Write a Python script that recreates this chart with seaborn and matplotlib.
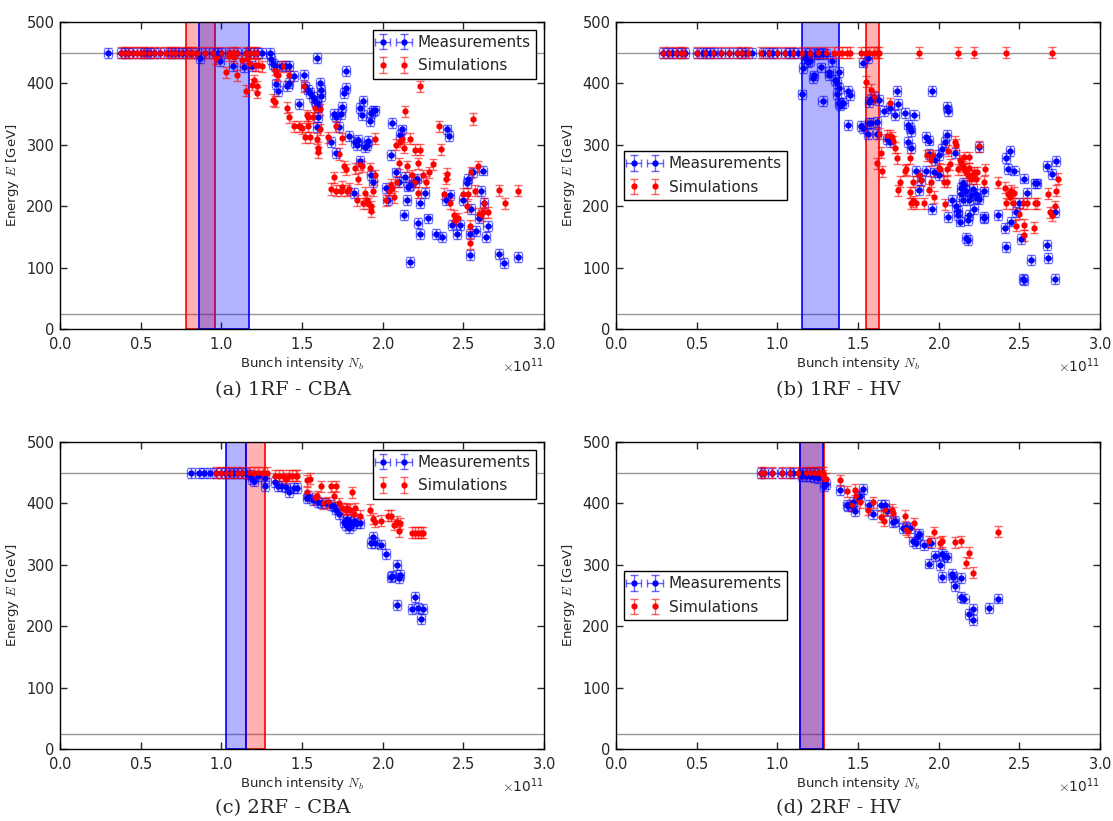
import numpy as np
import pandas as pd
import matplotlib
matplotlib.use("Agg")
import matplotlib.pyplot as plt
import seaborn as sns
from matplotlib.ticker import ScalarFormatter, MultipleLocator

# ---------------- data (x in units of 1e11 protons) ----------------
# (a) 1RF - CBA
a_meas_x = [0.30, 0.38, 0.40, 0.42, 0.45, 0.50, 0.52, 0.54, 0.56, 0.58, 0.62, 0.67, 0.69, 0.71, 0.73,
            0.76, 0.78, 0.81, 0.85, 0.90, 0.95, 0.98, 1.00, 1.05, 1.10, 1.15, 1.18, 1.20, 1.22, 1.25, 1.30,
            0.87, 0.99, 1.07, 1.14, 1.19, 1.31, 1.32, 1.33, 1.37, 1.40, 1.42, 1.45, 1.34, 1.35, 1.41, 1.42,
            1.51, 1.48, 1.52, 1.54, 1.55, 1.57, 1.58, 1.59, 1.60, 1.60, 1.595, 1.61, 1.62, 1.62, 1.595,
            1.68, 1.70, 1.71, 1.74, 1.73, 1.75, 1.76, 1.77, 1.77, 1.71, 1.79, 1.83, 1.84, 1.85, 1.86, 1.87,
            1.88, 1.89, 1.90, 1.91, 1.92, 1.93, 1.94, 1.95, 1.86, 1.93, 1.94, 1.82, 2.02, 2.03, 2.05, 2.06,
            2.08, 2.10, 2.11, 2.12, 2.13, 2.14, 2.15, 2.16, 2.17, 2.17, 2.20, 2.21, 2.22, 2.23, 2.23, 2.26,
            2.28, 2.33, 2.37, 2.39, 2.40, 2.41, 2.42, 2.43, 2.46, 2.48, 2.50, 2.52, 2.53, 2.54, 2.54, 2.55,
            2.56, 2.58, 2.60, 2.61, 2.62, 2.63, 2.64, 2.65, 2.72, 2.75, 2.84]
a_meas_y = [450] * 31 + \
           [442, 436, 428, 426, 428, 440, 432, 428, 428, 428, 428, 412, 399, 388, 396, 401,
            414, 366, 395, 390, 385, 378, 372, 368, 362, 345, 442, 400, 390, 380, 329,
            304, 350, 345, 350, 329, 361, 385, 392, 420, 287, 315, 305, 300, 308, 360, 348,
            372, 296, 300, 306, 338, 352, 355, 356, 273, 250, 240, 222, 230, 210, 283, 336,
            255, 240, 316, 325, 185, 248, 210, 232, 235, 109, 240, 245, 172, 155, 205, 222,
            180, 155, 150, 210, 325, 315, 218, 170, 155, 170, 210, 238, 245, 120, 155, 195,
            255, 160, 180, 225, 258, 205, 150, 168, 122, 108, 117]
a_sim_x = [0.38, 0.40, 0.42, 0.45, 0.48, 0.50, 0.52, 0.55, 0.58, 0.62, 0.66, 0.68, 0.70, 0.72, 0.75,
           0.78, 0.80, 0.82, 0.85, 0.90, 0.95, 1.00, 1.05, 1.08, 1.10, 1.15, 1.18, 1.20, 1.22,
           0.97, 1.03, 1.05, 1.08, 1.10, 1.13, 1.15, 1.16, 1.18, 1.19, 1.20, 1.21, 1.22, 1.22, 1.23, 1.25,
           1.32, 1.33, 1.33, 1.34, 1.35, 1.38, 1.41, 1.42, 1.42, 1.45, 1.48, 1.50, 1.51, 1.52, 1.53, 1.54,
           1.54, 1.55, 1.57, 1.58, 1.59, 1.60, 1.60, 1.61, 1.61, 1.66, 1.68, 1.70, 1.71, 1.71, 1.73, 1.74,
           1.75, 1.75, 1.76, 1.77, 1.78, 1.79, 1.83, 1.84, 1.85, 1.86, 1.87, 1.88, 1.89, 1.90, 1.91, 1.92,
           1.93, 1.93, 1.94, 1.95, 1.95, 2.02, 2.04, 2.05, 2.06, 2.07, 2.08, 2.09, 2.10, 2.11, 2.12, 2.13,
           2.14, 2.15, 2.17, 2.18, 2.20, 2.20, 2.22, 2.22, 2.23, 2.23, 2.25, 2.27, 2.29, 2.31, 2.35, 2.36,
           2.38, 2.39, 2.40, 2.42, 2.44, 2.45, 2.47, 2.50, 2.52, 2.53, 2.54, 2.54, 2.55, 2.56, 2.57, 2.59,
           2.60, 2.61, 2.62, 2.63, 2.65, 2.72, 2.76, 2.84]
a_sim_y = [450] * 29 + \
          [441, 418, 445, 443, 413, 438, 388, 440, 432, 398, 405, 430, 385, 395, 430, 428,
           373, 370, 422, 415, 413, 428, 360, 345, 413, 330, 330, 327, 395, 312, 348, 330,
           345, 312, 345, 360, 310, 288, 295, 325, 358, 312, 228, 247, 330, 225, 285, 225,
           232, 311, 265, 260, 225, 228, 262, 210, 245, 268, 265, 205, 222, 210, 205, 262,
           200, 192, 225, 310, 250, 210, 225, 235, 230, 215, 300, 240, 270, 305, 310, 295,
           355, 265, 310, 250, 240, 292, 222, 270, 292, 395, 250, 240, 255, 268, 330, 293,
           220, 245, 253, 205, 185, 178, 180, 220, 200, 220, 168, 140, 255, 342, 225, 265,
           188, 185, 190, 205, 190, 226, 205, 225]

# (b) 1RF - HV
b_meas_x = [0.29, 0.32, 0.35, 0.38, 0.41, 0.43, 0.50, 0.54, 0.56, 0.58, 0.61, 0.65, 0.70, 0.75, 0.78,
            0.80, 0.84, 0.91, 0.95, 0.97, 1.00, 1.05, 1.08, 1.10, 1.13, 1.17, 1.20, 1.25, 1.28,
            1.15, 1.16, 1.17, 1.19, 1.20, 1.22, 1.23, 1.24, 1.26, 1.27, 1.28, 1.30, 1.32, 1.32, 1.34,
            1.36, 1.37, 1.37, 1.38, 1.38, 1.38, 1.39, 1.40, 1.41, 1.44, 1.44, 1.45, 1.52, 1.53, 1.53, 1.56,
            1.56, 1.57, 1.57, 1.58, 1.58, 1.60, 1.62, 1.62, 1.63, 1.66, 1.68, 1.70, 1.70, 1.73, 1.74, 1.75,
            1.79, 1.81, 1.81, 1.82, 1.83, 1.83, 1.85, 1.86, 1.88, 1.89, 1.92, 1.92, 1.94, 1.94, 1.96, 1.96,
            1.97, 1.98, 2.00, 2.00, 2.02, 2.04, 2.05, 2.05, 2.06, 2.06, 2.08, 2.10, 2.11, 2.12, 2.12, 2.13,
            2.14, 2.14, 2.15, 2.15, 2.16, 2.17, 2.17, 2.18, 2.18, 2.19, 2.19, 2.20, 2.21, 2.22, 2.23, 2.24,
            2.25, 2.25, 2.28, 2.28, 2.28, 2.37, 2.41, 2.42, 2.42, 2.43, 2.44, 2.45, 2.47, 2.48, 2.50, 2.51,
            2.52, 2.53, 2.53, 2.55, 2.57, 2.60, 2.61, 2.67, 2.67, 2.68, 2.70, 2.72, 2.72, 2.73]
b_meas_y = [450] * 29 + \
           [382, 425, 442, 435, 436, 409, 413, 448, 448, 426, 371, 448, 419, 413, 437,
            405, 400, 383, 393, 418, 368, 365, 368, 368, 332, 388, 381, 330, 328, 434, 441,
            318, 335, 370, 335, 375, 378, 337, 318, 373, 355, 310, 360, 305, 348, 388, 366,
            352, 333, 305, 328, 295, 322, 348, 257, 226, 243, 313, 257, 285, 307, 387, 196,
            255, 275, 250, 283, 293, 305, 316, 362, 355, 183, 210, 287, 200, 192, 185, 175,
            230, 220, 238, 210, 235, 225, 148, 145, 178, 185, 210, 218, 228, 195, 220, 213,
            212, 296, 183, 180, 224, 186, 165, 133, 278, 260, 290, 175, 258, 190, 205, 147,
            82, 80, 245, 222, 113, 237, 237, 265, 137, 115, 253, 190, 82, 273]
b_sim_x = [0.29, 0.33, 0.37, 0.40, 0.42, 0.50, 0.55, 0.60, 0.65, 0.70, 0.75, 0.78, 0.82, 0.90, 0.95,
           1.00, 1.05, 1.10, 1.15, 1.20, 1.25, 1.30, 1.35, 1.38, 1.40, 1.43, 1.45, 1.52, 1.55, 1.57,
           1.60, 1.62, 1.63, 1.88, 2.12, 2.22, 2.42, 2.70,
           1.55, 1.58, 1.60, 1.62, 1.63, 1.64, 1.65, 1.68, 1.70, 1.70, 1.71, 1.72, 1.73, 1.74, 1.75, 1.76,
           1.79, 1.80, 1.82, 1.82, 1.83, 1.84, 1.84, 1.86, 1.88, 1.89, 1.91, 1.93, 1.94, 1.95, 1.95, 1.96,
           1.97, 2.00, 2.01, 2.03, 2.04, 2.05, 2.05, 2.06, 2.07, 2.10, 2.11, 2.12, 2.13, 2.14, 2.15, 2.16,
           2.16, 2.17, 2.18, 2.19, 2.19, 2.20, 2.21, 2.22, 2.23, 2.24, 2.25, 2.28, 2.29, 2.37, 2.41, 2.42,
           2.43, 2.44, 2.45, 2.46, 2.47, 2.48, 2.50, 2.52, 2.53, 2.53, 2.55, 2.59, 2.60, 2.61, 2.68, 2.69,
           2.70, 2.72, 2.73, 2.74]
b_sim_y = [450] * 38 + \
          [403, 390, 378, 270, 318, 287, 257, 315, 368, 315, 312, 306, 295, 278, 226, 240,
           258, 260, 278, 223, 205, 240, 208, 205, 250, 242, 205, 283, 227, 275, 240, 283,
           215, 262, 260, 240, 203, 240, 260, 290, 268, 305, 300, 260, 275, 270, 265, 260,
           280, 255, 250, 262, 280, 245, 250, 255, 245, 255, 298, 240, 260, 238, 230, 205,
           220, 215, 225, 205, 222, 168, 188, 205, 170, 153, 205, 165, 205, 205, 220, 190,
           185, 200, 225, 245]

# (c) 2RF - CBA
c_meas_x = [0.81, 0.86, 0.89, 0.93, 0.97, 1.00, 1.02, 1.05, 1.08, 1.10, 1.13, 1.15,
            1.17, 1.19, 1.20, 1.23, 1.27, 1.27, 1.33, 1.35, 1.37, 1.40, 1.42, 1.45, 1.47, 1.53, 1.54,
            1.57, 1.60, 1.62, 1.65, 1.68, 1.70, 1.71, 1.73, 1.76, 1.77, 1.78, 1.79, 1.80, 1.81, 1.82,
            1.84, 1.86, 1.93, 1.94, 1.95, 1.99, 2.02, 2.05, 2.06, 2.09, 2.09, 2.10, 2.11, 2.18, 2.20,
            2.22, 2.24, 2.25]
c_meas_y = [450] * 12 + \
           [447, 440, 437, 445, 428, 442, 435, 428, 428, 426, 418, 425, 425, 408, 412,
            405, 402, 400, 400, 398, 395, 390, 382, 370, 365, 375, 360, 370, 365, 372,
            368, 368, 335, 345, 335, 333, 318, 280, 282, 300, 235, 278, 283, 228, 248,
            230, 212, 228]
c_sim_x = [0.97, 1.00, 1.03, 1.06, 1.10, 1.13, 1.17, 1.20, 1.23, 1.26, 1.28,
           1.33, 1.36, 1.38, 1.40, 1.42, 1.44, 1.46, 1.47, 1.53, 1.55, 1.53, 1.58, 1.59, 1.62, 1.63,
           1.66, 1.68, 1.70, 1.71, 1.73, 1.75, 1.77, 1.78, 1.80, 1.81, 1.82, 1.83, 1.86, 1.92, 1.94,
           1.95, 1.99, 2.03, 2.05, 2.07, 2.09, 2.10, 2.11, 2.18, 2.20, 2.22, 2.24, 2.25]
c_sim_y = [450] * 11 + \
          [445, 445, 445, 440, 445, 445, 445, 445, 438, 440, 418, 408, 412, 428, 400,
           402, 428, 412, 428, 400, 392, 390, 392, 390, 418, 382, 392, 380, 390, 375,
           370, 372, 380, 380, 365, 370, 355, 368, 352, 352, 352, 352, 352]

# (d) 2RF - HV
d_meas_x = [0.90, 0.92, 0.97, 1.03, 1.08, 1.10, 1.15, 1.18, 1.20, 1.23, 1.25,
            1.15, 1.18, 1.20, 1.23, 1.25, 1.29, 1.30, 1.39, 1.43, 1.44, 1.46, 1.47, 1.48, 1.50, 1.51,
            1.53, 1.57, 1.59, 1.64, 1.67, 1.68, 1.72, 1.73, 1.78, 1.80, 1.82, 1.84, 1.86, 1.87, 1.88,
            1.91, 1.94, 1.95, 1.98, 2.01, 2.02, 2.02, 2.03, 2.05, 2.08, 2.09, 2.10, 2.14, 2.14, 2.16,
            2.19, 2.21, 2.21, 2.31, 2.37]
d_meas_y = [450] * 11 + \
           [445, 445, 444, 443, 442, 428, 432, 422, 398, 395, 395, 402, 388, 410, 412,
            423, 397, 382, 397, 398, 388, 370, 372, 360, 362, 360, 338, 335, 347, 350,
            332, 302, 335, 315, 300, 280, 318, 315, 312, 285, 280, 265, 248, 278, 245,
            220, 210, 228, 230, 245]
d_sim_x = [0.90, 0.92, 0.97, 1.03, 1.08, 1.13, 1.18, 1.20, 1.23, 1.25, 1.27, 1.28,
           1.28, 1.30, 1.39, 1.43, 1.46, 1.48, 1.49, 1.51, 1.56, 1.59, 1.64, 1.66, 1.67, 1.71, 1.72,
           1.79, 1.80, 1.81, 1.85, 1.94, 1.97, 2.01, 2.02, 2.10, 2.14, 2.17, 2.19, 2.21, 2.37]
d_sim_y = [450] * 12 + \
          [445, 440, 438, 420, 397, 422, 412, 402, 390, 402, 378, 372, 390, 390, 385,
           380, 358, 355, 368, 338, 353, 336, 338, 337, 338, 303, 320, 287, 354]

panels = [
    ("(a) 1RF - CBA", a_meas_x, a_meas_y, a_sim_x, a_sim_y, (0.86, 1.17), (0.78, 0.96), "upper right"),
    ("(b) 1RF - HV", b_meas_x, b_meas_y, b_sim_x, b_sim_y, (1.15, 1.38), (1.55, 1.63), "center left"),
    ("(c) 2RF - CBA", c_meas_x, c_meas_y, c_sim_x, c_sim_y, (1.03, 1.15), (1.15, 1.27), "upper right"),
    ("(d) 2RF - HV", d_meas_x, d_meas_y, d_sim_x, d_sim_y, (1.14, 1.28), (1.14, 1.29), "center left"),
]

SCALE = 1e11
MEAS_YERR = 8
MEAS_XERR = 0.025
SIM_YERR = 9
ENERGY_LINES = [450, 25]

# ---------------- style ----------------
sns.set_style("ticks")
plt.rcParams.update({
    "font.family": ["DejaVu Sans"],
    "xtick.direction": "in", "ytick.direction": "in",
    "xtick.top": True, "ytick.right": True,
    "xtick.major.size": 5, "ytick.major.size": 5,
    "axes.linewidth": 1.0,
    "axes.edgecolor": "black",
    "mathtext.fontset": "cm",
})

W, H = 1113, 821
fig = plt.figure(figsize=(W / 100, H / 100), dpi=100)
positions = [
    (60, 22, 484, 307), (616, 22, 484, 307),
    (60, 442, 484, 307), (616, 442, 484, 307),
]
caption_pos = [(283, 390), (838, 390), (283, 808), (838, 808)]

for (title, mx, my, sx, sy, bspan, rspan, legloc), (l, t, w, h), (cx, cy) in zip(panels, positions, caption_pos):
    ax = fig.add_axes([l / W, (H - t - h) / H, w / W, h / H])
    mx = np.asarray(mx) * SCALE
    sx = np.asarray(sx) * SCALE
    my = np.asarray(my, dtype=float)
    sy = np.asarray(sy, dtype=float)

    for yv in ENERGY_LINES:
        ax.axhline(yv, color="#999999", lw=1.0, zorder=1)

    # red band first, blue band on top (overlap becomes blue-tinted purple)
    ax.axvspan(rspan[0] * SCALE, rspan[1] * SCALE, facecolor=(1, 0, 0, 0.3),
               edgecolor="red", lw=1.2, zorder=1.5)
    ax.axvspan(bspan[0] * SCALE, bspan[1] * SCALE, facecolor=(0, 0, 1, 0.3),
               edgecolor="blue", lw=1.2, zorder=1.6)

    h1 = ax.errorbar(mx, my, yerr=MEAS_YERR, xerr=MEAS_XERR * SCALE, fmt="o", color="blue",
                     ms=3.5, mec="blue", ecolor=(0, 0, 1, 0.6), elinewidth=1.0, capsize=3,
                     capthick=1.0, label="Measurements", zorder=3)
    h2 = ax.errorbar(sx, sy, yerr=SIM_YERR, fmt="o", color="red", ms=3.5, mec="red",
                     ecolor=(1, 0, 0, 0.6), elinewidth=1.0, capsize=3, capthick=1.0,
                     label="Simulations", zorder=3)
    dfm = pd.DataFrame({"N": mx, "E": my})
    dfs = pd.DataFrame({"N": sx, "E": sy})
    sns.scatterplot(data=dfm, x="N", y="E", ax=ax, color="blue", s=12,
                    linewidth=0, legend=False, zorder=4)
    sns.scatterplot(data=dfs, x="N", y="E", ax=ax, color="red", s=12,
                    linewidth=0, legend=False, zorder=4)

    ax.set_xlim(0, 3.0 * SCALE)
    ax.set_ylim(0, 500)
    ax.xaxis.set_major_locator(MultipleLocator(0.5 * SCALE))
    ax.yaxis.set_major_locator(MultipleLocator(100))
    fmt = ScalarFormatter(useMathText=True)
    fmt.set_powerlimits((0, 0))
    ax.xaxis.set_major_formatter(fmt)
    ax.xaxis.get_offset_text().set_fontsize(10)
    ax.tick_params(labelsize=10.5, width=1.0)
    ax.tick_params(axis="x", pad=5)
    ax.tick_params(axis="y", pad=4)
    ax.set_xlabel(r"Bunch intensity $N_b$", fontsize=9.5, labelpad=2)
    ax.set_ylabel(r"Energy $E$ [GeV]", fontsize=9.5, labelpad=4)

    leg = ax.legend(handles=[h1, h2], labels=["Measurements", "Simulations"], loc=legloc,
                    numpoints=2, fontsize=11, frameon=True, fancybox=False, framealpha=1,
                    edgecolor="black", borderpad=0.35, handlelength=2.0, handletextpad=0.6,
                    labelspacing=0.55, borderaxespad=0.5)
    leg.get_frame().set_linewidth(1.0)

    fig.text(cx / W, 1 - cy / H, title, ha="center", va="center", fontsize=14,
             family=["DejaVu Serif"])

fig.savefig("out.png", dpi=100)
